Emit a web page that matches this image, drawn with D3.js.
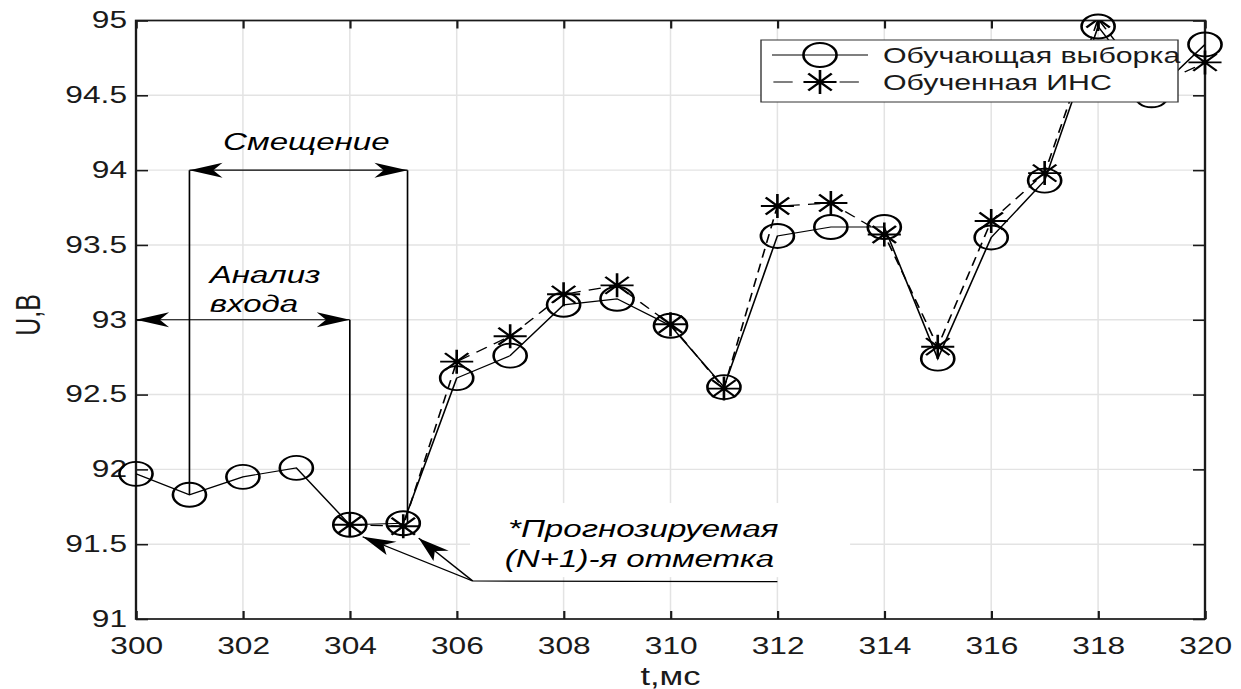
<!DOCTYPE html>
<html><head><meta charset="utf-8">
<script src="https://cdn.jsdelivr.net/npm/d3@7/dist/d3.min.js"></script>
<style>html,body{margin:0;padding:0;background:#fff;overflow:hidden}</style>
</head><body>
<svg id="chart"></svg>
<script>
// ---- data ----
const tTrain = [300,301,302,303,304,305,306,307,308,309,310,311,312,313,314,315,316,317,318,319,320];
const uTrain = [91.97,91.83,91.95,92.01,91.63,91.64,92.61,92.76,93.10,93.14,92.96,92.55,93.56,93.62,93.62,92.74,93.55,93.93,94.96,94.50,94.84];
const tAnn = [304,305,306,307,308,309,310,311,312,313,314,315,316,317,318,319,320];
const uAnn = [91.63,91.62,92.72,92.89,93.17,93.23,92.97,92.54,93.76,93.78,93.57,92.82,93.66,93.98,95.01,94.55,94.72];
const xTicks = [300,302,304,306,308,310,312,314,316,318,320];
const yTicks = [91,91.5,92,92.5,93,93.5,94,94.5,95];
const legendLabels = ["Обучающая выборка","Обученная ИНС"];
const xLabel = "t,мс", yLabel = "U,B";

// ---- layout (stretched horizontally like the reference) ----
const W = 1241, H = 689, VBW = 900, SX = W / VBW;
const pL = 136 / SX, pR = 1205 / SX, pT = 20.5, pB = 619;
const FONT = "'Liberation Sans', Arial, sans-serif";
const INK = "#1a1a1a";

const svg = d3.select("#chart").attr("width", W).attr("height", H)
  .attr("viewBox", `0 0 ${VBW} ${H}`).attr("preserveAspectRatio", "none");

const x = d3.scaleLinear().domain([300, 320]).range([pL, pR]);
const y = d3.scaleLinear().domain([91, 95]).range([pB, pT]);

const defs = svg.append("defs");
defs.append("clipPath").attr("id", "clip")
  .append("rect").attr("x", pL).attr("y", pT).attr("width", pR - pL).attr("height", pB - pT);
defs.append("clipPath").attr("id", "clipStar")
  .append("rect").attr("x", 0).attr("y", pT).attr("width", VBW).attr("height", H);

// grid
const grid = svg.append("g");
grid.selectAll(".gx").data(xTicks).join("line")
  .attr("x1", d => x(d)).attr("x2", d => x(d)).attr("y1", pT).attr("y2", pB)
  .attr("stroke", "#e3e3e3").attr("stroke-width", 1.1);
grid.selectAll(".gy").data(yTicks).join("line")
  .attr("x1", pL).attr("x2", pR).attr("y1", d => y(d)).attr("y2", d => y(d))
  .attr("stroke", "#e3e3e3").attr("stroke-width", 1.4);

// white text box behind the forecast note
svg.append("rect").attr("x", x(306.25)).attr("y", y(91.775))
  .attr("width", x(313.36) - x(306.25)).attr("height", y(91.28) - y(91.775))
  .attr("fill", "#fff");

// axes with inward ticks
const axB = d3.axisBottom(x).tickValues(xTicks).tickSize(-8).tickPadding(19).tickFormat(d3.format("d"));
const axT = d3.axisTop(x).tickValues(xTicks).tickSize(-8).tickFormat("");
const axL = d3.axisLeft(y).tickValues(yTicks).tickSize(-8.7).tickPadding(6.5).tickFormat(d3.format("~g"));
const axR = d3.axisRight(y).tickValues(yTicks).tickSize(-8.7).tickFormat("");
function styleAxis(g) {
  g.select(".domain").remove();
  g.selectAll(".tick line").attr("stroke", INK).attr("stroke-width", 1.6);
  g.selectAll(".tick text").attr("font-family", FONT).attr("font-size", 23).attr("fill", INK);
}
svg.append("g").attr("transform", `translate(0,${pB})`).call(axB).call(styleAxis);
svg.append("g").attr("transform", `translate(0,${pT})`).call(axT).call(styleAxis);
svg.append("g").attr("transform", `translate(${pL},0)`).call(axL).call(styleAxis);
svg.append("g").attr("transform", `translate(${pR},0)`).call(axR).call(styleAxis);

svg.append("rect").attr("x", pL).attr("y", pT).attr("width", pR - pL).attr("height", pB - pT)
  .attr("fill", "none").attr("stroke", INK).attr("stroke-width", 1.7);

// axis labels
svg.append("text").attr("x", x(310)).attr("y", 685).attr("text-anchor", "middle")
  .attr("font-family", FONT).attr("font-size", 25).attr("fill", INK).text(xLabel);
svg.append("text").attr("transform", `translate(${40 / SX},315) rotate(-90)`).attr("text-anchor", "middle")
  .attr("font-family", FONT).attr("font-size", 25).attr("fill", INK).text(yLabel);

// series lines
const line = d3.line().x(d => x(d[0])).y(d => y(d[1]));
const trainPts = tTrain.map((t, i) => [t, uTrain[i]]);
const annPts = tAnn.map((t, i) => [t, uAnn[i]]);
const lines = svg.append("g").attr("clip-path", "url(#clip)");
lines.append("path").datum(annPts).attr("d", line).attr("fill", "none")
  .attr("stroke", "#000").attr("stroke-width", 1.2).attr("stroke-dasharray", "9,6");
lines.append("path").datum(trainPts).attr("d", line).attr("fill", "none")
  .attr("stroke", "#000").attr("stroke-width", 1.2);

// markers
const R = 12;
function circleMarker(g, cx, cy) {
  g.append("circle").attr("cx", cx).attr("cy", cy).attr("r", R)
    .attr("fill", "none").attr("stroke", "#000").attr("stroke-width", 1.9);
}
function starMarker(g, cx, cy) {
  const s = 12, d = 8.5;
  const p = `M${cx - s},${cy}L${cx + s},${cy}M${cx},${cy - s}L${cx},${cy + s}` +
            `M${cx - d},${cy - d}L${cx + d},${cy + d}M${cx - d},${cy + d}L${cx + d},${cy - d}`;
  g.append("path").attr("d", p).attr("stroke", "#000").attr("stroke-width", 1.9).attr("fill", "none");
}
const mk = svg.append("g");
trainPts.forEach(d => circleMarker(mk, x(d[0]), y(d[1])));
const mkS = svg.append("g").attr("clip-path", "url(#clipStar)");
annPts.forEach(d => starMarker(mkS, x(d[0]), y(d[1])));

// ---- annotations ----
const ann = svg.append("g");
function head(x1, y1, x2, y2) {
  const L = 24, Wd = 7.5, N = 0.72;
  const a = Math.atan2(y2 - y1, x2 - x1), c = Math.cos(a), s = Math.sin(a);
  const bx = x2 - L * c, by = y2 - L * s;
  const nx = x2 - L * N * c, ny = y2 - L * N * s;
  const p = `M${x2},${y2}L${bx - Wd * s},${by + Wd * c}L${nx},${ny}L${bx + Wd * s},${by - Wd * c}Z`;
  ann.append("path").attr("d", p).attr("fill", "#000");
}
function seg(x1, y1, x2, y2) {
  ann.append("line").attr("x1", x1).attr("y1", y1).attr("x2", x2).attr("y2", y2)
    .attr("stroke", "#000").attr("stroke-width", 1.2);
}
function dbl(xa, xb, yv) {
  seg(x(xa), y(yv), x(xb), y(yv));
  head(x(xb), y(yv), x(xa), y(yv));
  head(x(xa), y(yv), x(xb), y(yv));
}
// "Смещение"
dbl(301, 305.08, 94);
seg(x(301), y(94), x(301), y(91.83));
seg(x(305.08), y(94), x(305.08), y(91.64));
// "Анализ входа"
dbl(300, 304, 93);
seg(x(304), y(93), x(304), y(91.63));
// forecast pointers
seg(x(306.3), y(91.254), x(312), y(91.25));
seg(x(306.3), y(91.254), x(304.24), y(91.55)); head(x(306.3), y(91.254), x(304.24), y(91.55));
seg(x(306.3), y(91.254), x(305.29), y(91.54)); head(x(306.3), y(91.254), x(305.29), y(91.54));

function note(tx, ty, str) {
  ann.append("text").attr("x", x(tx)).attr("y", y(ty)).attr("font-family", FONT)
    .attr("font-style", "italic").attr("font-size", 24).attr("fill", "#000").text(str);
}
note(301.63, 94.135, "Смещение");
note(301.38, 93.246, "Анализ");
note(301.38, 93.05, "входа");
note(306.96, 91.548, "*Прогнозируемая");
note(306.9, 91.348, "(N+1)-я отметка");

// ---- legend ----
const lg = svg.append("g");
lg.append("rect").attr("x", 761 / SX).attr("y", 40).attr("width", (1178 - 761) / SX).attr("height", 62)
  .attr("fill", "#fff").attr("stroke", "#333").attr("stroke-width", 1);
const rowsY = [55, 82];
const lx1 = 772 / SX, lx2 = 868 / SX, lmx = 820 / SX, ltx = 883 / SX;
lg.append("line").attr("x1", lx1).attr("x2", lx2).attr("y1", rowsY[0]).attr("y2", rowsY[0])
  .attr("stroke", "#000").attr("stroke-width", 1.2);
circleMarker(lg, lmx, rowsY[0]);
lg.append("line").attr("x1", lx1).attr("x2", lx2).attr("y1", rowsY[1]).attr("y2", rowsY[1])
  .attr("stroke", "#000").attr("stroke-width", 1.2).attr("stroke-dasharray", "14,10").attr("stroke-dashoffset", -1);
starMarker(lg, lmx, rowsY[1]);
legendLabels.forEach((t, i) => {
  lg.append("text").attr("x", ltx).attr("y", rowsY[i] + 8).attr("font-family", FONT)
    .attr("font-size", 22).attr("fill", INK).text(t);
});
</script>
</body></html>
